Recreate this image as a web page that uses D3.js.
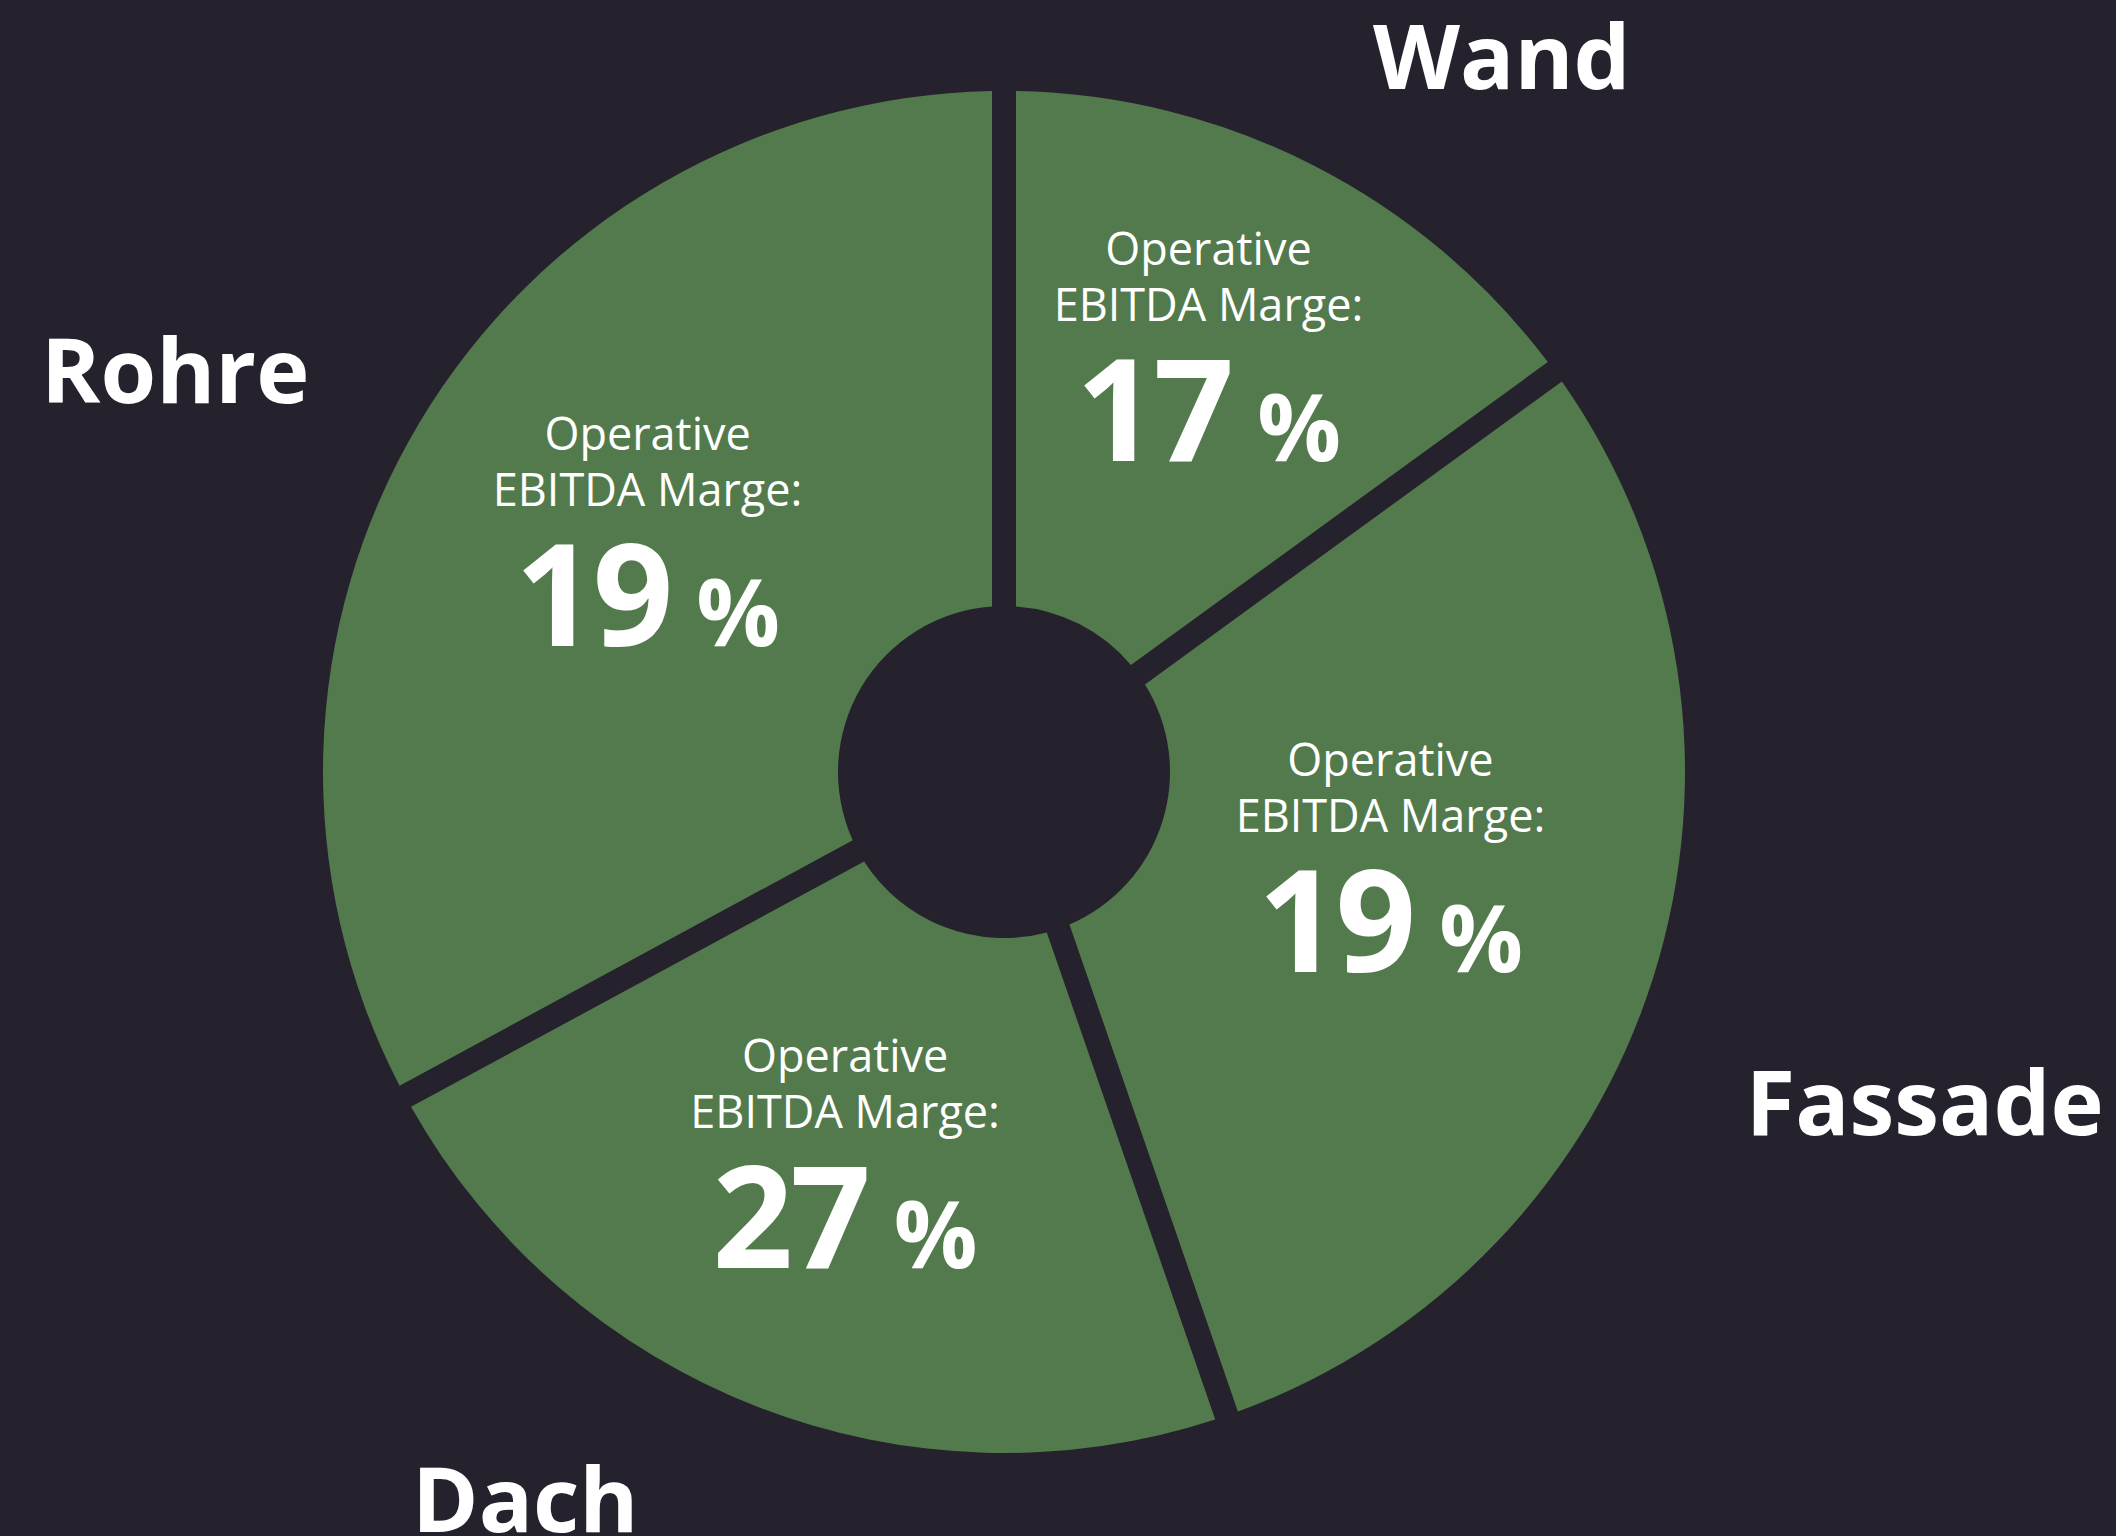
<!DOCTYPE html>
<html>
<head>
<meta charset="utf-8">
<script src="https://cdn.jsdelivr.net/npm/d3@7"></script>
<style>
  html, body { margin: 0; padding: 0; background: #25222e; }
  svg { display: block; }
</style>
</head>
<body>
<svg id="chart" width="2116" height="1536"></svg>
<script>
// ---------- data ----------
const categories = ["Wand", "Fassade", "Dach", "Rohre"];
const shares = [15, 29.7, 22.4, 32.9];       // segment sizes (estimated from angles)
const margins = [17, 19, 27, 19];             // operative EBITDA margin, %
const marginLabelLines = ["Operative", "EBITDA Marge:"];
const percentSign = "%";

// ---------- layout / style ----------
const width = 2116, height = 1536;
const cx = 1004, cy = 772;
const outerR = 681, innerR = 166, gapPx = 24;
const bg = "#25222e", green = "#537a4c", white = "#ffffff";
const font = "'Open Sans', 'Noto Sans', sans-serif";
// inner label placement: radius and angular nudge (deg) from each segment's mid-angle
const innerLabelTune = [
  { r: 495, da: -2.6 },
  { r: 391, da: -8.7 },
  { r: 390, da: 2.8 },
  { r: 445, da: 6.0 }
];
// outer category label anchors, in units of outer radius from the centre
const outerLabelTune = [
  { x: 0.731, y: -1.003 },
  { x: 1.352, y: 0.533 },
  { x: -0.703, y: 1.116 },
  { x: -1.217, y: -0.542 }
];

const rows = categories.map((c, i) => ({ category: c, share: shares[i], margin: margins[i], i }));

const svg = d3.select("#chart");
svg.append("rect").attr("width", width).attr("height", height).attr("fill", bg);

const g = svg.append("g").attr("transform", `translate(${cx},${cy})`);

const pie = d3.pie().sort(null).value(d => d.share).startAngle(0).endAngle(2 * Math.PI);
const arcs = pie(rows);

const arc = d3.arc()
  .innerRadius(innerR)
  .outerRadius(outerR)
  .padRadius(outerR)
  .padAngle(2 * Math.asin(gapPx / 2 / outerR));

g.selectAll("path.seg")
  .data(arcs)
  .join("path")
  .attr("class", "seg")
  .attr("d", arc)
  .attr("fill", green);

// inner labels
const labels = g.selectAll("g.lbl")
  .data(arcs)
  .join("g")
  .attr("class", "lbl")
  .attr("transform", d => {
    const t = innerLabelTune[d.data.i];
    const a = (d.startAngle + d.endAngle) / 2 + t.da * Math.PI / 180;
    return `translate(${t.r * Math.sin(a)},${-t.r * Math.cos(a)})`;
  });

labels.append("text")
  .attr("y", -56)
  .attr("text-anchor", "middle")
  .attr("font-family", font)
  .attr("font-size", 45)
  .attr("fill", white)
  .text(marginLabelLines[0]);

labels.append("text")
  .attr("y", 0)
  .attr("text-anchor", "middle")
  .attr("font-family", font)
  .attr("font-size", 45)
  .attr("fill", white)
  .text(marginLabelLines[1]);

const num = labels.append("text")
  .attr("y", 140)
  .attr("text-anchor", "middle")
  .attr("font-family", font)
  .attr("font-weight", 700)
  .attr("fill", white);
num.append("tspan").attr("font-size", 141).attr("letter-spacing", -3).text(d => d.data.margin);
num.append("tspan").attr("font-size", 93).attr("dx", 26).text(percentSign);

// outer category labels
g.selectAll("text.cat")
  .data(arcs)
  .join("text")
  .attr("class", "cat")
  .attr("x", d => outerLabelTune[d.data.i].x * outerR)
  .attr("y", d => outerLabelTune[d.data.i].y * outerR)
  .attr("text-anchor", "middle")
  .attr("font-family", font)
  .attr("font-weight", 700)
  .attr("font-size", 90)
  .attr("fill", white)
  .text(d => d.data.category);
</script>
</body>
</html>
